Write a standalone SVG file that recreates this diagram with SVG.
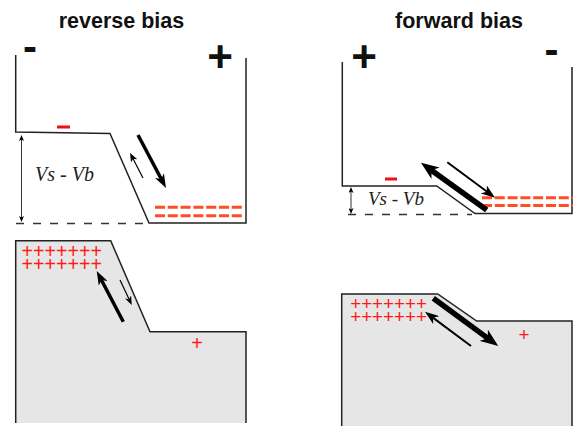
<svg xmlns="http://www.w3.org/2000/svg" width="573" height="426" viewBox="0 0 573 426">
<style>
.title{font-family:"Liberation Sans",Arial,sans-serif;font-weight:bold;font-size:21.5px;fill:#111;text-anchor:middle}
.pol{font-family:"Liberation Sans",Arial,sans-serif;font-weight:bold;fill:#111;text-anchor:middle}
.v{font-family:"Liberation Serif","Times New Roman",serif;font-style:italic;fill:#222}
.plus{font-family:"Liberation Sans",Arial,sans-serif;fill:#ff1a1a}
.edge{fill:none;stroke:#222;stroke-width:1.5}
.fillp{fill:#e6e6e6;stroke:none}
.dash{fill:none;stroke:#333;stroke-width:1.5;stroke-dasharray:8 9}
.rdash{fill:none;stroke:#ff4d26;stroke-width:3;stroke-dasharray:10 2.8}
.arr{fill:none;stroke:#000}
</style>
<defs>
<marker id="ahb" viewBox="0 0 18 14" refX="6" refY="7" markerWidth="18" markerHeight="14" markerUnits="userSpaceOnUse" orient="auto"><path d="M0,0 L18,7 L0,14 L5,7 z" fill="#000"/></marker>
<marker id="ahm" viewBox="0 0 14 10" refX="5" refY="5" markerWidth="14" markerHeight="10" markerUnits="userSpaceOnUse" orient="auto"><path d="M0,0 L14,5 L0,10 L4,5 z" fill="#000"/></marker>
<marker id="aht" viewBox="0 0 9 7" refX="3" refY="3.5" markerWidth="9" markerHeight="7" markerUnits="userSpaceOnUse" orient="auto-start-reverse"><path d="M0,0 L9,3.5 L0,7 L2.5,3.5 z" fill="#000"/></marker>
<marker id="ahs" viewBox="0 0 6 5" refX="2" refY="2.5" markerWidth="6" markerHeight="5" markerUnits="userSpaceOnUse" orient="auto-start-reverse"><path d="M0,0 L6,2.5 L0,5 L1.5,2.5 z" fill="#000"/></marker>
</defs>

<g id="reverse-title"><text class="title" x="121.5" y="28">reverse bias</text></g>
<g id="forward-title"><text class="title" x="459" y="28">forward bias</text></g>

<g id="reverse-top">
<text class="pol" x="30" y="61" font-size="42">-</text>
<text class="pol" x="220" y="72" font-size="44">+</text>
<path class="edge" d="M15.7,55 L15.7,132 L110,133.5 L149,223 L246,223 L246,58"/>
<path class="dash" d="M16,223.5 L148,223.5"/>
<rect x="57" y="125.5" width="13" height="3" fill="#ee1111"/>
<path class="rdash" d="M155,207.3 L243,207.3 M155,215.7 L243,215.7"/>
<text class="v" x="35" y="181" font-size="20">Vs - Vb</text>
</g>

<g id="reverse-bottom">
<path class="fillp" d="M15.7,423 L15.7,240.7 L110.7,240.7 L150,331.7 L246,331.7 L246,423 z"/>
<path class="edge" d="M15.7,423 L15.7,240.7 L110.7,240.7 L150,331.7 L246,331.7 L246,423"/>
<text class="plus" font-size="19.7"><tspan x="21.5" y="257.7">+++++++</tspan><tspan x="21.5" y="270.8">+++++++</tspan></text>
<text class="plus" x="197" y="349.7" font-size="19.7" text-anchor="middle">+</text>
</g>

<g id="forward-top">
<text class="pol" x="364" y="72" font-size="44">+</text>
<text class="pol" x="551.5" y="64" font-size="42">-</text>
<path class="edge" d="M342.3,62 L342.3,186 L436.7,186 L475,213.5 L572,213.5 L572,67"/>
<path class="dash" d="M348,214.5 L472,214.5"/>
<rect x="385" y="177.5" width="12" height="3" fill="#ee1111"/>
<path class="rdash" d="M482,197.7 L573,197.7 M482,205.5 L573,205.5"/>
<text class="v" x="368" y="205" font-size="19">Vs - Vb</text>
</g>

<g id="forward-bottom">
<path class="fillp" d="M341.7,426 L341.7,294 L437.7,294 L476.7,321 L572,321 L572,426 z"/>
<path class="edge" d="M341.7,426 L341.7,294 L437.7,294 L476.7,321 L572,321 L572,426"/>
<text class="plus" font-size="18.8"><tspan x="350.2" y="310.4">+++++++</tspan><tspan x="350.2" y="323.4">+++++++</tspan></text>
<text class="plus" x="524" y="340.5" font-size="18.8" text-anchor="middle">+</text>
</g>

<g id="connectors">
<line class="arr" x1="138" y1="135" x2="161.8" y2="180" stroke-width="3.5" marker-end="url(#ahm)"/>
<line class="arr" x1="143" y1="178" x2="132.8" y2="158.3" stroke-width="1.2" marker-end="url(#aht)"/>
<line class="arr" x1="21.5" y1="139" x2="21.5" y2="218" stroke-width="0.8" marker-start="url(#ahs)" marker-end="url(#ahs)"/>
<line class="arr" x1="123.3" y1="321.7" x2="100.9" y2="279" stroke-width="3.5" marker-end="url(#ahm)"/>
<line class="arr" x1="120" y1="280" x2="129.2" y2="299.6" stroke-width="1.2" marker-end="url(#aht)"/>
<line class="arr" x1="486.7" y1="210" x2="430.7" y2="169.7" stroke-width="5.5" marker-end="url(#ahb)"/>
<line class="arr" x1="447.3" y1="162.3" x2="487.8" y2="192.3" stroke-width="2" marker-end="url(#ahm)"/>
<line class="arr" x1="351" y1="191" x2="351" y2="210" stroke-width="0.8" marker-start="url(#ahs)" marker-end="url(#ahs)"/>
<line class="arr" x1="433.3" y1="298.3" x2="488.6" y2="338.9" stroke-width="5.5" marker-end="url(#ahb)"/>
<line class="arr" x1="471" y1="346" x2="432.2" y2="317.1" stroke-width="2" marker-end="url(#ahm)"/>
</g>
</svg>
